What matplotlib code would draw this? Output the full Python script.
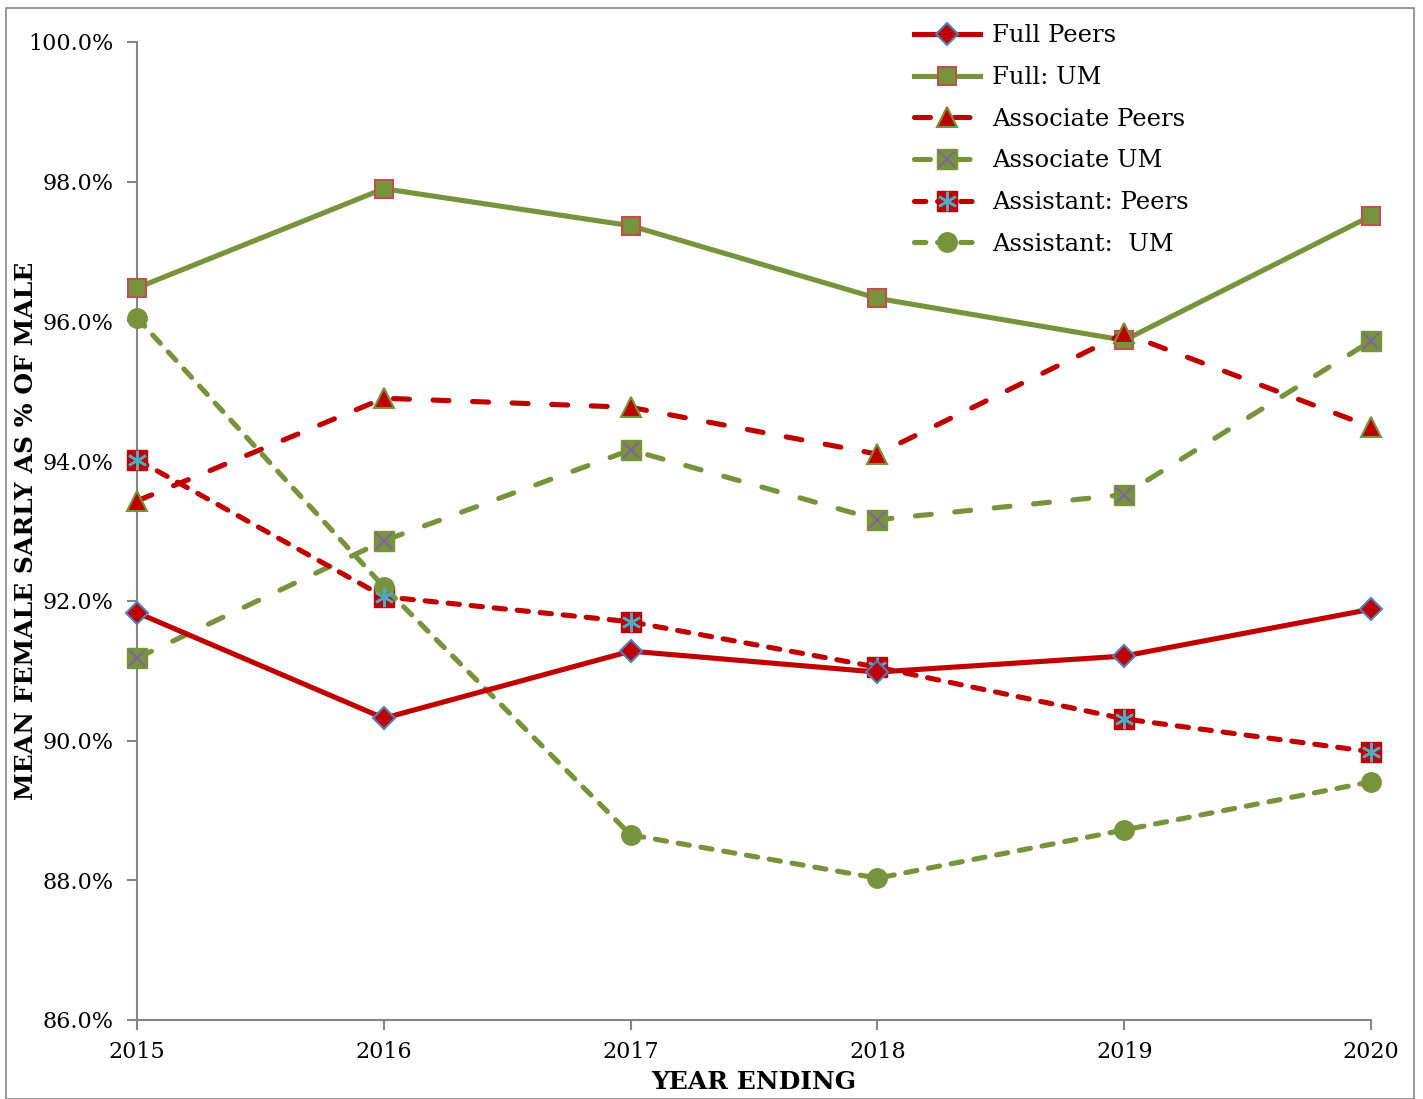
import matplotlib
matplotlib.use("Agg")
import matplotlib.pyplot as plt
from matplotlib.patches import Rectangle
from matplotlib.legend_handler import HandlerTuple

plt.rcParams['font.family'] = ['DejaVu Serif']

##data
years = [2015, 2016, 2017, 2018, 2019, 2020]
full_peers = [91.83, 90.32, 91.28, 90.98, 91.21, 91.88]
full_um = [96.48, 97.90, 97.37, 96.33, 95.73, 97.51]
assoc_peers = [93.43, 94.90, 94.77, 94.10, 95.83, 94.49]
assoc_um = [91.18, 92.86, 94.16, 93.16, 93.52, 95.72]
asst_peers = [94.02, 92.06, 91.70, 91.05, 90.31, 89.84]
asst_um = [96.05, 92.20, 88.65, 88.03, 88.72, 89.41]
y_ticks = [86, 88, 90, 92, 94, 96, 98, 100]

RED = "#C00000"
GREEN = "#77933C"
BLUE = "#4F81BD"
EDGE_RED = "#C0504D"
PURPLE = "#8064A2"
CYAN = "#4BACC6"
AXIS = "#868686"

fig = plt.figure(figsize=(14.23, 10.99), dpi=100)
ax = fig.add_axes([0.0963, 0.0719, 0.8672, 0.8899])

# outer chart border
fig.patches.append(Rectangle((0.004, 0.0), 0.99, 0.993, transform=fig.transFigure,
                             fill=False, edgecolor=AXIS, linewidth=1.2))

lw = 3.7
dash_long = (0, (3.1, 4.6))
dash_short = (0, (2.2, 2.3))

l1, = ax.plot(years, full_peers, color=RED, lw=lw, marker="D", ms=11,
              mfc=RED, mec=BLUE, mew=1.5, clip_on=False, zorder=5)
l2, = ax.plot(years, full_um, color=GREEN, lw=lw, marker="s", ms=13,
              mfc=GREEN, mec=EDGE_RED, mew=1.5, clip_on=False, zorder=4)
l3, = ax.plot(years, assoc_peers, color=RED, lw=lw, ls=dash_long, marker="^", ms=14,
              mfc=RED, mec=GREEN, mew=1.5, clip_on=False,
              zorder=4, dash_capstyle="round")
l4, = ax.plot(years, assoc_um, color=GREEN, lw=lw, ls=dash_long, marker="s", ms=14,
              mfc=GREEN, mec=GREEN, mew=1, clip_on=False,
              zorder=4, dash_capstyle="round")
l4x, = ax.plot(years, assoc_um, ls="none", marker="x", ms=12, mec=PURPLE, mew=1.5,
               clip_on=False, zorder=4.5)
l5, = ax.plot(years, asst_peers, color=RED, lw=lw, ls=dash_short, marker="s", ms=14,
              mfc=RED, mec=RED, mew=1, clip_on=False,
              zorder=4, dash_capstyle="round")
l5x, = ax.plot(years, asst_peers, ls="none", marker=(6, 2, 0), ms=14, mec=CYAN, mew=1.8,
               clip_on=False, zorder=4.5)
l6, = ax.plot(years, asst_um, color=GREEN, lw=lw, ls=dash_short, marker="o", ms=14,
              mfc=GREEN, mec=GREEN, clip_on=False,
              zorder=4, dash_capstyle="round")

ax.set_xlim(2015, 2020)
ax.set_ylim(86, 100)
ax.set_yticks(y_ticks)
ax.set_yticklabels([f"{v:.1f}%" for v in y_ticks])
ax.set_xticks(years)

for side in ["top", "right"]:
    ax.spines[side].set_visible(False)
for side in ["left", "bottom"]:
    ax.spines[side].set_color(AXIS)
    ax.spines[side].set_linewidth(1.5)
ax.tick_params(axis="both", direction="out", length=7, width=1.5, color=AXIS,
               labelsize=16)
ax.tick_params(axis="y", pad=10)
ax.tick_params(axis="x", pad=8)

ax.set_ylabel("MEAN FEMALE SARLY AS % OF MALE", fontsize=18, fontweight="bold")
ax.yaxis.set_label_coords(-0.080, 0.5)
ax.set_xlabel("YEAR ENDING", fontsize=18, fontweight="bold")
ax.xaxis.set_label_coords(0.5, -0.051)

handles = [l1, l2, l3, (l4, l4x), (l5, l5x), l6]
labels = ["Full Peers", "Full: UM", "Associate Peers", "Associate UM",
          "Assistant: Peers", "Assistant:  UM"]
leg = ax.legend(handles, labels, loc="upper left", bbox_to_anchor=(0.622, 1.028),
                frameon=False, fontsize=17.5, handlelength=2.7, labelspacing=0.77,
                handletextpad=0.5, borderaxespad=0,
                handler_map={tuple: HandlerTuple(ndivide=1)})

plt.savefig("out.png", dpi=100)
